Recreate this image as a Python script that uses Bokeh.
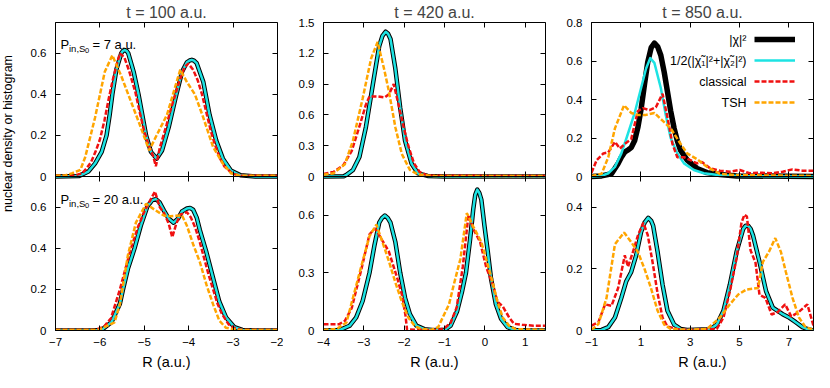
from math import pi
from bokeh.plotting import figure
from bokeh.models import (Range1d, FixedTicker, LinearAxis, Label, Legend, LegendItem,
                          CustomJSTickFormatter)
from bokeh.layouts import row
from bokeh.embed import file_html
from bokeh.resources import INLINE

# ---------------------------------------------------------------- data
titles = ["t = 100 a.u.", "t = 420 a.u.", "t = 850 a.u."]
p_values = ["7 a.u.", "20 a.u."]
x_label = "R (a.u.)"
y_label = "nuclear density or histogram"
legend_names = ["|χ|²", "1/2(|χ̃₁|²+|χ̃₂|²)", "classical", "TSH"]

x_ranges = [(-7, -2), (-4, 1.5), (-1, 8)]
x_ticks = [[-7, -6, -5, -4, -3, -2], [-4, -3, -2, -1, 0, 1], [-1, 1, 3, 5, 7]]
y_max_top = [0.75, 1.5, 0.8]
y_max_bot = [0.75, 0.8, 0.5]
y_ticks_top = [[0, 0.2, 0.4, 0.6], [0, 0.3, 0.6, 0.9, 1.2, 1.5], [0, 0.2, 0.4, 0.6, 0.8]]
y_ticks_bot = [[0, 0.2, 0.4, 0.6], [0, 0.3, 0.6], [0, 0.2, 0.4]]

# t = 100, P = 7
tl_ex_x = [-7.0, -6.48, -6.26, -6.11, -5.96, -5.85, -5.78, -5.72, -5.63, -5.52, -5.48, -5.44, -5.40, -5.36, -5.24, -5.13, -4.96, -4.85, -4.72, -4.60, -4.45, -4.30, -4.15, -4.04, -3.98, -3.93, -3.88, -3.82, -3.67, -3.53, -3.38, -3.23, -3.05, -2.83, -2.5, -2.0]
tl_ex_y = [0, 0.002, 0.024, 0.063, 0.12, 0.20, 0.30, 0.40, 0.52, 0.60, 0.612, 0.616, 0.612, 0.60, 0.51, 0.40, 0.20, 0.12, 0.087, 0.127, 0.24, 0.38, 0.51, 0.556, 0.565, 0.568, 0.564, 0.552, 0.46, 0.30, 0.175, 0.087, 0.029, 0.006, 0, 0]
tl_cl_x = [-7.0, -6.6, -6.4, -6.3, -6.2, -6.1, -6.0, -5.9, -5.8, -5.7, -5.6, -5.55, -5.45, -5.35, -5.2, -5.1, -5.0, -4.9, -4.8, -4.74, -4.65, -4.5, -4.4, -4.3, -4.2, -4.1, -4.01, -3.9, -3.8, -3.7, -3.6, -3.5, -3.4, -3.3, -3.2, -3.0, -2.8, -2.0]
tl_cl_y = [0.004, 0.004, 0.015, 0.04, 0.07, 0.12, 0.18, 0.27, 0.38, 0.48, 0.56, 0.60, 0.58, 0.52, 0.41, 0.31, 0.22, 0.15, 0.10, 0.05, 0.14, 0.25, 0.33, 0.40, 0.47, 0.53, 0.55, 0.52, 0.47, 0.40, 0.31, 0.22, 0.15, 0.09, 0.05, 0.012, 0.004, 0.004]
tl_ts_x = [-7.0, -6.77, -6.62, -6.44, -6.33, -6.11, -5.89, -5.72, -5.52, -5.30, -5.08, -4.89, -4.71, -4.49, -4.30, -4.19, -4.04, -3.86, -3.67, -3.45, -3.23, -3.05, -2.86, -2.5, -2.0]
tl_ts_y = [0.004, 0.006, 0.016, 0.032, 0.095, 0.286, 0.51, 0.59, 0.49, 0.365, 0.24, 0.127, 0.206, 0.30, 0.44, 0.52, 0.46, 0.40, 0.286, 0.143, 0.063, 0.016, 0.004, 0.004, 0.004]

# t = 100, P = 20
bl_ex_x = [-7.0, -6.2, -5.96, -5.74, -5.55, -5.48, -5.37, -5.22, -5.08, -4.93, -4.82, -4.74, -4.66, -4.56, -4.45, -4.34, -4.24, -4.15, -4.04, -3.97, -3.90, -3.82, -3.75, -3.60, -3.45, -3.31, -3.16, -2.97, -2.79, -2.5, -2.0]
bl_ex_y = [0, 0, 0.003, 0.04, 0.13, 0.2, 0.30, 0.40, 0.51, 0.605, 0.635, 0.64, 0.625, 0.585, 0.545, 0.525, 0.545, 0.58, 0.594, 0.597, 0.588, 0.55, 0.49, 0.38, 0.255, 0.14, 0.064, 0.016, 0.003, 0, 0]
bl_cl_x = [-7.0, -6.1, -5.9, -5.75, -5.65, -5.55, -5.45, -5.3, -5.15, -5.0, -4.9, -4.76, -4.65, -4.55, -4.45, -4.37, -4.28, -4.19, -4.04, -3.95, -3.85, -3.75, -3.65, -3.55, -3.45, -3.35, -3.25, -3.1, -2.95, -2.8, -2.0]
bl_cl_y = [0.003, 0.003, 0.02, 0.06, 0.13, 0.2, 0.28, 0.40, 0.50, 0.58, 0.62, 0.677, 0.60, 0.57, 0.52, 0.454, 0.52, 0.565, 0.576, 0.55, 0.50, 0.43, 0.35, 0.27, 0.2, 0.13, 0.08, 0.03, 0.01, 0.003, 0.003]
bl_ts_x = [-7.0, -6.03, -5.67, -5.55, -5.37, -5.19, -4.96, -4.78, -4.56, -4.41, -4.15, -4.04, -3.90, -3.75, -3.60, -3.45, -3.31, -3.16, -2.9, -2.0]
bl_ts_y = [0.003, 0.003, 0.04, 0.127, 0.366, 0.525, 0.617, 0.59, 0.56, 0.557, 0.56, 0.51, 0.42, 0.334, 0.223, 0.127, 0.048, 0.013, 0.003, 0.003]

# t = 420, P = 7
tm_ex_x = [-4.0, -3.5, -3.43, -3.27, -3.11, -2.95, -2.78, -2.62, -2.54, -2.46, -2.40, -2.34, -2.22, -2.10, -1.98, -1.82, -1.66, -1.42, -1.0, 1.5]
tm_ex_y = [0, 0.002, 0.016, 0.064, 0.19, 0.48, 0.89, 1.27, 1.37, 1.41, 1.39, 1.34, 1.05, 0.67, 0.35, 0.127, 0.03, 0.006, 0, 0]
tm_cl_x = [-4.0, -3.75, -3.51, -3.3, -3.1, -2.95, -2.86, -2.66, -2.48, -2.38, -2.26, -2.14, -2.02, -1.9, -1.76, -1.62, -1.46, -1.3, 0.0, 1.5]
tm_cl_y = [0.025, 0.045, 0.11, 0.25, 0.5, 0.7, 0.78, 0.78, 0.77, 0.8, 0.9, 0.7, 0.49, 0.3, 0.13, 0.045, 0.015, 0.008, 0.006, 0.006]
tm_ts_x = [-4.0, -3.75, -3.47, -3.27, -3.03, -2.82, -2.66, -2.50, -2.38, -2.22, -2.06, -1.86, -1.66, -1.3, 1.5]
tm_ts_y = [0.016, 0.032, 0.12, 0.35, 0.76, 1.15, 1.31, 1.05, 0.83, 0.48, 0.22, 0.064, 0.019, 0.006, 0.006]

# t = 420, P = 20
bm_ex_x = [-4.0, -3.59, -3.35, -3.19, -3.03, -2.86, -2.74, -2.62, -2.55, -2.48, -2.41, -2.34, -2.22, -2.10, -1.98, -1.86, -1.70, -1.50, -1.25, -1.0, -0.85, -0.69, -0.57, -0.47, -0.37, -0.29, -0.24, -0.19, -0.14, -0.09, -0.01, 0.07, 0.15, 0.27, 0.40, 0.56, 0.76, 1.1, 1.5]
bm_ex_y = [0, 0.003, 0.025, 0.068, 0.153, 0.30, 0.44, 0.56, 0.585, 0.597, 0.585, 0.56, 0.46, 0.30, 0.17, 0.085, 0.025, 0.007, 0.002, 0.003, 0.025, 0.10, 0.20, 0.30, 0.47, 0.63, 0.705, 0.732, 0.715, 0.68, 0.54, 0.41, 0.27, 0.136, 0.06, 0.017, 0.003, 0, 0]
bm_cl_x = [-4.0, -3.62, -3.47, -3.30, -3.06, -2.86, -2.72, -2.55, -2.38, -2.17, -2.05, -1.97, -1.93, -1.5, -1.15, -1.0, -0.85, -0.7, -0.55, -0.41, -0.27, -0.12, 0.03, 0.19, 0.31, 0.44, 0.60, 0.72, 0.92, 1.2, 1.5]
bm_cl_y = [0.032, 0.032, 0.05, 0.117, 0.32, 0.5, 0.53, 0.47, 0.41, 0.27, 0.18, 0.08, 0.005, 0.003, 0.003, 0.012, 0.04, 0.12, 0.33, 0.60, 0.52, 0.46, 0.33, 0.24, 0.15, 0.125, 0.068, 0.035, 0.03, 0.025, 0.025]
bm_ts_x = [-4.0, -3.67, -3.43, -3.27, -3.03, -2.86, -2.69, -2.54, -2.38, -2.22, -2.06, -1.90, -1.74, -1.58, -1.33, -1.16, -0.89, -0.77, -0.61, -0.45, -0.29, -0.09, 0.07, 0.19, 0.31, 0.44, 0.60, 0.76, 1.5]
bm_ts_y = [0.003, 0.008, 0.042, 0.17, 0.36, 0.49, 0.55, 0.46, 0.36, 0.25, 0.15, 0.068, 0.024, 0.008, 0.003, 0.017, 0.136, 0.24, 0.37, 0.61, 0.54, 0.46, 0.34, 0.25, 0.15, 0.068, 0.025, 0.007, 0.003]

# t = 850, P = 7
tr_ex_x = [-1.0, -0.59, -0.19, 0.08, 0.21, 0.35, 0.48, 0.61, 0.75, 0.88, 1.01, 1.15, 1.28, 1.42, 1.55, 1.68, 1.81, 1.95, 2.08, 2.21, 2.35, 2.48, 2.61, 2.88, 3.28, 3.68, 4.21, 4.88, 8.0]
tr_ex_y = [0, 0.003, 0.014, 0.068, 0.10, 0.127, 0.138, 0.15, 0.187, 0.255, 0.35, 0.48, 0.594, 0.67, 0.693, 0.675, 0.63, 0.54, 0.44, 0.34, 0.25, 0.185, 0.136, 0.085, 0.042, 0.02, 0.01, 0.003, 0]
tr_cy_x = [-1.0, -0.59, -0.32, -0.05, 0.21, 0.42, 0.75, 1.01, 1.21, 1.38, 1.55, 1.81, 2.01, 2.21, 2.48, 2.75, 3.15, 3.55, 4.21, 5.0, 8.0]
tr_cy_y = [0, 0.003, 0.017, 0.05, 0.12, 0.2, 0.33, 0.46, 0.56, 0.615, 0.59, 0.46, 0.32, 0.2, 0.12, 0.068, 0.034, 0.017, 0.007, 0.002, 0]
tr_cl_x = [-1.0, -0.79, -0.52, -0.32, -0.05, 0.15, 0.35, 0.61, 0.88, 1.08, 1.35, 1.61, 1.88, 2.08, 2.28, 2.48, 2.75, 3.01, 3.28, 3.48, 3.81, 4.21, 4.61, 5.01, 5.41, 5.81, 6.35, 6.75, 7.15, 7.55, 8.0]
tr_cl_y = [0.02, 0.085, 0.12, 0.125, 0.18, 0.145, 0.17, 0.195, 0.34, 0.355, 0.345, 0.36, 0.43, 0.306, 0.17, 0.10, 0.10, 0.085, 0.068, 0.075, 0.042, 0.03, 0.025, 0.034, 0.017, 0.02, 0.017, 0.025, 0.037, 0.03, 0.03]
tr_ts_x = [-1.0, -0.59, -0.32, -0.05, 0.32, 0.61, 0.88, 1.21, 1.55, 1.88, 2.21, 2.61, 2.88, 3.28, 3.68, 4.21, 4.88, 8.0]
tr_ts_y = [0.003, 0.014, 0.10, 0.25, 0.37, 0.33, 0.32, 0.32, 0.33, 0.29, 0.25, 0.17, 0.12, 0.09, 0.05, 0.014, 0.007, 0.003]

# t = 850, P = 20
br_ex_x = [-1.0, -0.59, -0.32, -0.05, 0.21, 0.41, 0.61, 0.81, 1.01, 1.15, 1.3, 1.42, 1.5, 1.68, 1.88, 2.08, 2.35, 2.61, 2.88, 3.81, 4.08, 4.35, 4.61, 4.88, 5.15, 5.25, 5.35, 5.45, 5.55, 5.81, 6.08, 6.35, 6.75, 7.01, 7.28, 7.55, 7.81, 8.0]
br_ex_y = [0, 0.002, 0.011, 0.042, 0.106, 0.16, 0.19, 0.244, 0.32, 0.35, 0.366, 0.356, 0.34, 0.255, 0.149, 0.064, 0.019, 0.005, 0.002, 0.004, 0.019, 0.064, 0.149, 0.255, 0.33, 0.34, 0.34, 0.33, 0.308, 0.223, 0.127, 0.074, 0.053, 0.042, 0.027, 0.011, 0.003, 0]
br_cl_x = [-1.0, -0.72, -0.45, -0.19, 0.08, 0.35, 0.48, 0.68, 0.88, 1.1, 1.28, 1.48, 1.68, 1.88, 2.08, 2.48, 2.88, 4.08, 4.35, 4.61, 4.88, 5.08, 5.2, 5.3, 5.45, 5.65, 5.81, 6.05, 6.3, 6.55, 6.85, 7.1, 7.4, 7.75, 8.0]
br_cl_y = [0.016, 0.027, 0.085, 0.08, 0.138, 0.244, 0.207, 0.255, 0.308, 0.35, 0.31, 0.22, 0.12, 0.042, 0.013, 0.005, 0.002, 0.005, 0.042, 0.127, 0.234, 0.35, 0.376, 0.37, 0.26, 0.22, 0.116, 0.106, 0.052, 0.06, 0.085, 0.045, 0.06, 0.085, 0.015]
br_ts_x = [-1.0, -0.72, -0.39, -0.05, 0.32, 0.61, 0.88, 1.15, 1.41, 1.68, 1.95, 2.21, 2.88, 3.68, 4.21, 4.61, 4.95, 5.28, 5.75, 5.95, 6.19, 6.45, 6.68, 6.88, 7.15, 7.41, 7.68, 8.0]
br_ts_y = [0.002, 0.021, 0.106, 0.28, 0.318, 0.287, 0.255, 0.20, 0.138, 0.064, 0.019, 0.005, 0.002, 0.005, 0.042, 0.085, 0.117, 0.133, 0.138, 0.223, 0.255, 0.30, 0.255, 0.19, 0.106, 0.042, 0.011, 0.002]

# ---------------------------------------------------------------- style
FONT = "Liberation Sans"
CYAN = "#1de3e3"
RED = "#f01010"
ORANGE = "#ffa500"
DASH = "5 2"

col_w = [267, 268, 263]
col_bl = [39, 40, 40]
col_br = [6, 6, 1]
PANEL_H = 154           # height of one panel frame
BT, BB = 22, 42
FIG_H = BT + 2 * PANEL_H + BB


def style_axis(ax, labels=True):
    ax.major_tick_in = 5
    ax.major_tick_out = 0
    ax.minor_tick_in = 0
    ax.minor_tick_out = 0
    ax.major_tick_line_color = "black"
    ax.axis_line_color = "black"
    ax.major_label_text_font = FONT
    ax.major_label_text_font_size = "11.5px"
    ax.major_label_text_color = "black"
    if not labels:
        ax.formatter = CustomJSTickFormatter(code="return ''")


def make_column(c):
    xr = x_ranges[c]
    p = figure(width=col_w[c], height=FIG_H, x_range=Range1d(*xr), y_range=Range1d(0, 1),
               toolbar_location=None, output_backend="svg",
               min_border_left=col_bl[c], min_border_right=col_br[c],
               min_border_top=BT, min_border_bottom=BB)
    # upper panel uses the upper half of the frame, lower panel the lower half
    p.extra_y_ranges = {"top": Range1d(-y_max_top[c], y_max_top[c]),
                        "bot": Range1d(0, 2 * y_max_bot[c])}
    p.grid.visible = False
    p.outline_line_color = "black"
    p.background_fill_color = "white"
    p.border_fill_color = "white"

    # bottom axis with labels
    xax = p.xaxis[0]
    xax.ticker = FixedTicker(ticks=x_ticks[c], minor_ticks=[])
    style_axis(xax)
    xax.major_label_standoff = 7
    xax.axis_label = x_label
    xax.axis_label_standoff = 5
    xax.axis_label_text_font = FONT
    xax.axis_label_text_font_size = "14.5px"
    xax.axis_label_text_font_style = "normal"
    xax.axis_label_text_color = "black"

    # mirrored x ticks: top edge and both sides of the panel boundary
    for loc, side in ((1, "above"), (0.5, "below"), (0.5, "above")):
        ax = LinearAxis(ticker=FixedTicker(ticks=x_ticks[c], minor_ticks=[]), fixed_location=loc)
        style_axis(ax, labels=False)
        p.add_layout(ax, side)

    # left axis: tick positions of both panels on the frame's own 0..1 scale
    pos, text = [], {}
    for v in y_ticks_bot[c]:
        t = v / (2 * y_max_bot[c])
        pos.append(t)
        text[t] = "0" if v == 0 else f"{v:g}"
    for v in y_ticks_top[c]:
        t = 0.5 + v / (2 * y_max_top[c])
        pos.append(t)
        text[t] = "0" if v == 0 else f"{v:g}"
    yax = p.yaxis[0]
    yax.ticker = FixedTicker(ticks=pos, minor_ticks=[])
    style_axis(yax)
    yax.major_label_standoff = 9
    yax.major_label_overrides = text

    axr = LinearAxis(ticker=FixedTicker(ticks=pos, minor_ticks=[]), fixed_location=xr[1])
    style_axis(axr, labels=False)
    p.add_layout(axr, "right")

    p.title.text = titles[c]
    p.title.align = "center"
    p.title.text_font = FONT
    p.title.text_font_size = "16px"
    p.title.text_font_style = "normal"
    p.title.standoff = 3
    return p


def draw(p, rname, ex_x, ex_y, cy_x, cy_y, cl_x, cl_y, ts_x, ts_y, bw=4.5):
    rb = p.line(ex_x, ex_y, line_color="black", line_width=bw, line_join="round", y_range_name=rname)
    rc = p.line(cy_x, cy_y, line_color=CYAN, line_width=2.5, line_join="round", y_range_name=rname)
    rr = p.line(cl_x, cl_y, line_color=RED, line_width=2.5, line_dash=DASH, y_range_name=rname)
    ro = p.line(ts_x, ts_y, line_color=ORANGE, line_width=2.5, line_dash=DASH, y_range_name=rname)
    return [rb, rc, rr, ro]


def p_label(p, val, base_y):
    kw = dict(x_units="screen", y_units="screen", text_font=FONT, text_color="black",
              text_baseline="alphabetic", text_align="left")
    p.add_layout(Label(x=5, y=base_y, text="P", text_font_size="13px", **kw))
    p.add_layout(Label(x=13.5, y=base_y - 3.5, text="in,S", text_font_size="9.5px", **kw))
    p.add_layout(Label(x=29.5, y=base_y - 6, text="0", text_font_size="7.5px", **kw))
    p.add_layout(Label(x=37, y=base_y, text="= " + val, text_font_size="13px", **kw))


c1 = make_column(0)
c2 = make_column(1)
c3 = make_column(2)

draw(c1, "top", tl_ex_x, tl_ex_y, tl_ex_x, tl_ex_y, tl_cl_x, tl_cl_y, tl_ts_x, tl_ts_y)
draw(c1, "bot", bl_ex_x, bl_ex_y, bl_ex_x, bl_ex_y, bl_cl_x, bl_cl_y, bl_ts_x, bl_ts_y)
draw(c2, "top", tm_ex_x, tm_ex_y, tm_ex_x, tm_ex_y, tm_cl_x, tm_cl_y, tm_ts_x, tm_ts_y)
draw(c2, "bot", bm_ex_x, bm_ex_y, bm_ex_x, bm_ex_y, bm_cl_x, bm_cl_y, bm_ts_x, bm_ts_y)
rends = draw(c3, "top", tr_ex_x, tr_ex_y, tr_cy_x, tr_cy_y, tr_cl_x, tr_cl_y, tr_ts_x, tr_ts_y, bw=5.5)
draw(c3, "bot", br_ex_x, br_ex_y, br_ex_x, br_ex_y, br_cl_x, br_cl_y, br_ts_x, br_ts_y)

FRAME_H = 2 * PANEL_H
p_label(c1, p_values[0], FRAME_H - 22)
p_label(c1, p_values[1], PANEL_H - 23)

# legend: glyph samples on the right, right-aligned texts on their left
leg = Legend(items=[LegendItem(label=" ", renderers=[r]) for r in rends],
             location=(163, FRAME_H - 87), margin=0, padding=0, spacing=7,
             glyph_width=41, glyph_height=14, label_height=14, label_width=0,
             label_standoff=0, label_text_font_size="8px",
             border_line_color=None, background_fill_alpha=0)
c3.add_layout(leg)
for i, name in enumerate(legend_names):
    c3.add_layout(Label(x=155, y=FRAME_H - 17 - 21 * i, x_units="screen", y_units="screen",
                        text=name, text_align="right", text_baseline="middle",
                        text_font=FONT, text_font_size="12.5px", text_color="black"))

lab = figure(width=16, height=FIG_H, x_range=Range1d(0, 1), y_range=Range1d(0, 1),
             toolbar_location=None, output_backend="svg", x_axis_location=None,
             y_axis_location=None, min_border_left=0, min_border_right=0,
             min_border_top=0, min_border_bottom=0)
lab.outline_line_color = None
lab.grid.visible = False
lab.add_layout(Label(x=7, y=BB + PANEL_H + 1, x_units="screen", y_units="screen", text=y_label,
                     angle=pi / 2, text_align="center", text_baseline="middle",
                     text_font=FONT, text_font_size="12.5px", text_color="black"))

layout = row(lab, c1, c2, c3)

open("out.html", "w").write(file_html(layout, INLINE))
